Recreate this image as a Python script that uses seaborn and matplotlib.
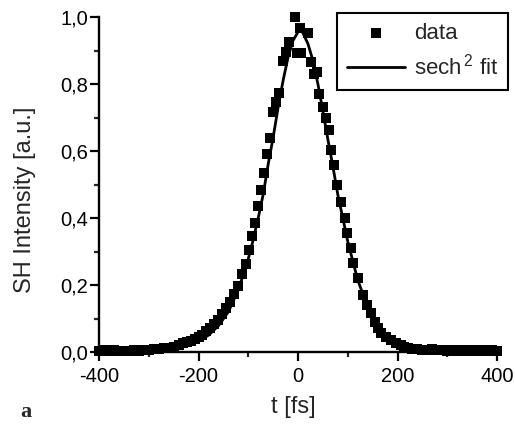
import numpy as np
import pandas as pd
import matplotlib
matplotlib.use("Agg")
import matplotlib.pyplot as plt
import seaborn as sns

t_data = [-400, -390, -380, -370, -360, -350, -340, -330, -320, -310, -300, -290,
          -280, -270, -260, -250, -240, -232, -224, -216, -208, -200, -192, -184,
          -176, -168, -160, -152, -144, -136, -128, -120, -112, -105, -98, -92,
          -86, -80, -74, -68, -62, -56, -51, -44, -38, -31, -25, -18, -7, -3,
          4, 6, 20, 27, 33, 38, 43, 50, 56, 62, 67, 73, 78, 87, 94, 98, 106,
          111, 120, 130, 138, 146, 154, 160, 167, 176, 187, 196, 207, 214, 222,
          230, 240, 250, 260, 270, 280, 290, 300, 310, 320, 330, 340, 350, 360,
          370, 380, 390, 400]
y_data = [0.004, 0.006, 0.003, 0.005, 0.002, 0.004, 0.003, 0.005, 0.004, 0.006, 0.005, 0.008,
          0.010, 0.011, 0.012, 0.016, 0.021, 0.026, 0.030, 0.033, 0.038, 0.045, 0.052, 0.062,
          0.072, 0.083, 0.096, 0.112, 0.130, 0.150, 0.172, 0.198, 0.232, 0.262, 0.305, 0.345,
          0.385, 0.435, 0.484, 0.535, 0.590, 0.640, 0.717, 0.745, 0.772, 0.870, 0.895, 0.926, 1.000, 0.893,
          0.966, 0.893, 0.951, 0.867, 0.830, 0.835, 0.770, 0.732, 0.700, 0.663, 0.603, 0.558, 0.499, 0.449,
          0.399, 0.354, 0.310, 0.265, 0.220, 0.170, 0.140, 0.115, 0.090, 0.072, 0.056, 0.045, 0.036,
          0.028, 0.021, 0.016, 0.012, 0.010, 0.008, 0.007, 0.006, 0.008, 0.005, 0.006, 0.004,
          0.006, 0.003, 0.005, 0.004, 0.006, 0.003, 0.005, 0.004, 0.006, 0.004]

# sech^2 fit curve
t_fit = [-400, -300, -260, -240, -220, -200, -180, -160, -140, -120, -100, -90, -80,
         -70, -60, -50, -40, -30, -20, -10, 0, 5, 10, 20, 30, 40, 50, 60, 70, 80,
         90, 100, 120, 140, 160, 180, 200, 220, 240, 260, 300, 400]
y_fit = [0.000, 0.003, 0.008, 0.013, 0.020, 0.032, 0.050, 0.078, 0.120, 0.185, 0.278, 0.335, 0.400,
         0.470, 0.560, 0.640, 0.730, 0.810, 0.880, 0.930, 0.955, 0.960, 0.952, 0.920, 0.870, 0.800,
         0.720, 0.635, 0.555, 0.470, 0.400, 0.330, 0.215, 0.135, 0.078, 0.045, 0.027, 0.017,
         0.011, 0.007, 0.003, 0.000]

x_ticks = [-400, -200, 0, 200, 400]
y_ticks = [0.0, 0.2, 0.4, 0.6, 0.8, 1.0]
y_ticklabels = ["0,0", "0,2", "0,4", "0,6", "0,8", "1,0"]

sns.set_style("ticks")
plt.rcParams["font.family"] = ["Liberation Sans", "DejaVu Sans"]
plt.rcParams["mathtext.fontset"] = "custom"
plt.rcParams["mathtext.rm"] = "Liberation Sans"
plt.rcParams["mathtext.default"] = "regular"
plt.rcParams["axes.unicode_minus"] = False

df = pd.DataFrame({"t": t_data, "y": y_data})
fit = pd.DataFrame({"t": t_fit, "y": y_fit})

fig = plt.figure(figsize=(5.15, 4.33), dpi=100)
ax = fig.add_axes([99 / 515, 81 / 433, 398 / 515, 335 / 433])

sns.lineplot(data=fit, x="t", y="y", ax=ax, color="black", linewidth=2.0,
             label="sech$^{\\,2}$ fit", zorder=3)
sns.scatterplot(data=df, x="t", y="y", ax=ax, marker="s", s=60, color="black",
                linewidth=0, label="data", clip_on=False, zorder=4)

ax.set_xlim(-400, 400)
ax.set_ylim(0, 1.0)
ax.set_xticks(x_ticks)
ax.set_xticks([-300, -100, 100, 300], minor=True)
ax.set_yticks(y_ticks)
ax.set_yticklabels(y_ticklabels)
ax.set_yticks([0.1, 0.3, 0.5, 0.7, 0.9], minor=True)

for s in ["top", "right"]:
    ax.spines[s].set_visible(False)
for s in ["left", "bottom"]:
    ax.spines[s].set_linewidth(1.7)
    ax.spines[s].set_color("black")

ax.tick_params(axis="both", which="major", length=6.5, width=1.6, labelsize=14.5, colors="black")
ax.tick_params(axis="both", which="minor", length=3.5, width=1.6)
ax.tick_params(axis="y", which="major", pad=1.5)
ax.tick_params(axis="x", which="major", pad=4)

ax.set_xlabel("t [fs]", fontsize=17)
ax.set_ylabel("SH Intensity [a.u.]", fontsize=17)
ax.xaxis.set_label_coords(0.487, -0.13)
ax.yaxis.set_label_coords(-0.158, 0.455)

h, l = ax.get_legend_handles_labels()
leg = ax.legend(h[::-1], l[::-1], loc="upper right", bbox_to_anchor=(508 / 515, 1 - 13 / 433),
                bbox_transform=fig.transFigure, fontsize=16, frameon=True, fancybox=False,
                edgecolor="black", framealpha=1, handlelength=2.6, handletextpad=0.4,
                borderpad=0.45, borderaxespad=0, labelspacing=0.45, markerscale=1.0)
leg.get_frame().set_linewidth(1.5)

fig.text(20 / 515, 1 - 412 / 433, "a", fontsize=16, fontweight="bold",
         family="Liberation Serif", va="center", ha="left")

fig.savefig("out.png", dpi=100)
